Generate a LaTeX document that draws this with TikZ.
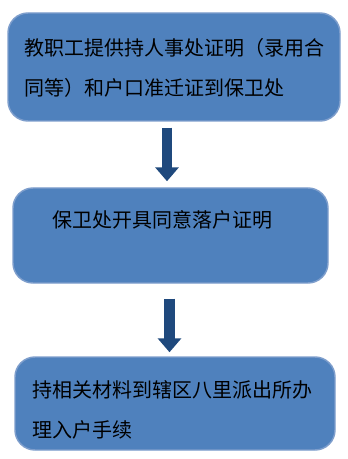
\documentclass[tikz,border=0pt]{standalone}
\usepackage{fontspec}
\newfontfamily\cjk{Noto Sans CJK SC}
\usetikzlibrary{arrows.meta}
\definecolor{BoxBlue}{RGB}{79,129,189}
\definecolor{BoxEdge}{RGB}{126,158,204}
\definecolor{ArrowBlue}{RGB}{31,73,125}
\tikzset{
  stepbox/.style={draw=BoxEdge, line width=1.1pt, rounded corners=15pt,
    fill=BoxBlue, align=left, inner sep=0pt, text height=12pt,
    font=\cjk\fontsize{15pt}{30pt}\selectfont},
  flowarrow/.style={-{Triangle[length=10.5pt,width=17.25pt]},
    line width=7.5pt, ArrowBlue}
}

\begin{document}
\begin{tikzpicture}[x=0.75pt,y=-0.75pt]
  \useasboundingbox (0,0) rectangle (347,459);
  \node[stepbox, minimum width=249pt, minimum height=81pt, text width=225pt,
    text depth=29.1pt] (submit) at (174,67)
    {教职工提供持人事处证明（录用合\\同等）和户口准迁证到保卫处};
  \node[stepbox, minimum width=236.25pt, minimum height=71.25pt, text width=177.75pt,
    text depth=23.85pt] (permit) at (170.5,235.5)
    {保卫处开具同意落户证明};
  \node[stepbox, minimum width=240pt, minimum height=69.75pt, text width=214.5pt,
    text depth=20.85pt] (register) at (175,403.5)
    {持相关材料到辖区八里派出所办\\理入户手续};
  \draw[flowarrow, shorten <=4.5pt, shorten >=4.5pt]
    ([xshift=-5.25pt]submit.south) -- ([xshift=-5.25pt]submit.south |- permit.north);
  \draw[flowarrow, line width=8.25pt, shorten <=11.25pt, shorten >=3pt]
    ([xshift=-0.75pt]permit.south) -- ([xshift=-0.75pt]permit.south |- register.north);
\end{tikzpicture}
\end{document}
